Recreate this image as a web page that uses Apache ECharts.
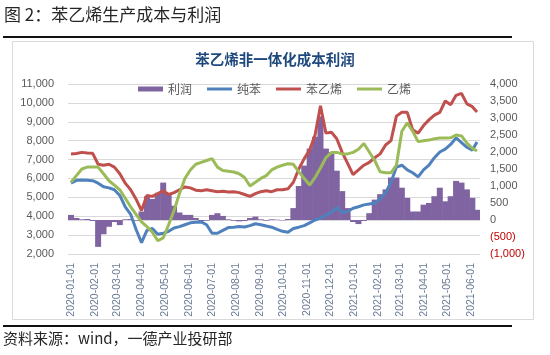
<!DOCTYPE html>
<html>
<head>
<meta charset="utf-8">
<script src="https://cdn.jsdelivr.net/npm/echarts@6/dist/echarts.min.js"></script>
<style>
html,body{margin:0;padding:0;background:#fff;}
#c{width:550px;height:355px;}
</style>
</head>
<body>
<div id="c"></div>
<script>
const dates = [
 '2020-01-01','2020-01-08','2020-01-15','2020-01-22','2020-01-29',
 '2020-02-05','2020-02-12','2020-02-19','2020-02-26',
 '2020-03-04','2020-03-11','2020-03-18','2020-03-25',
 '2020-04-01','2020-04-08','2020-04-15','2020-04-22','2020-04-29',
 '2020-05-06','2020-05-13','2020-05-20','2020-05-27',
 '2020-06-03','2020-06-10','2020-06-17','2020-06-24',
 '2020-07-01','2020-07-08','2020-07-15','2020-07-22','2020-07-29',
 '2020-08-05','2020-08-12','2020-08-19','2020-08-26',
 '2020-09-02','2020-09-09','2020-09-16','2020-09-23','2020-09-30',
 '2020-10-07','2020-10-14','2020-10-21','2020-10-28',
 '2020-11-04','2020-11-11','2020-11-18','2020-11-25',
 '2020-12-02','2020-12-09','2020-12-16','2020-12-23','2020-12-30',
 '2021-01-06','2021-01-13','2021-01-20','2021-01-27',
 '2021-02-03','2021-02-10','2021-02-17','2021-02-24',
 '2021-03-03','2021-03-10','2021-03-17','2021-03-24','2021-03-31',
 '2021-04-07','2021-04-14','2021-04-21','2021-04-28',
 '2021-05-05','2021-05-12','2021-05-19','2021-05-26',
 '2021-06-02','2021-06-08'
];
const profit = [
 150,60,20,30,-30,
 -790,-420,-200,-60,
 -150,20,30,-20,
 250,700,620,800,1100,
 780,420,220,150,
 150,60,-30,-20,
 150,200,120,20,-20,
 -40,-30,60,100,
 20,-20,20,10,-10,
 30,350,1000,1600,
 2100,2450,3050,2100,
 2000,1450,850,350,-60,
 -120,-30,200,600,
 760,900,1250,1250,
 950,650,250,250,450,
 500,700,950,550,
 700,1150,1100,900,
 650,300
];
const benzene = [
 5750,5900,5920,5900,5880,
 5750,5560,5500,5400,
 5100,4500,4100,3300,
 2600,3250,3350,3050,3100,
 3200,3380,3450,3550,
 3650,3680,3700,3550,
 3100,3100,3250,3400,3420,
 3450,3430,3500,3600,
 3550,3480,3420,3300,3200,
 3150,3350,3420,3500,
 3650,3800,3900,4050,
 4200,4450,4200,4250,4420,
 4500,4600,4650,4700,
 4900,5250,5800,6600,
 6700,6450,6300,6080,6450,
 6700,7100,7400,7550,
 7800,8150,7900,7650,
 7500,7930
];
const styrene = [
 7300,7320,7380,7350,7330,
 6750,6700,6750,6600,
 6250,5750,5400,4900,
 4300,5100,5050,5200,5350,
 5150,5250,5400,5550,
 5500,5380,5350,5400,
 5350,5300,5320,5280,5300,
 5250,5150,5050,5200,
 5300,5350,5300,5400,5400,
 5450,5800,6500,7050,
 7500,8300,9850,8400,
 8450,8100,7380,6800,6200,
 6450,6700,6850,7100,
 7300,7770,8000,9300,
 9500,9500,8570,8400,8800,
 9100,9350,9500,10100,
 9900,10400,10500,9950,
 9800,9520
];
const ethylene = [
 5800,6150,6500,6600,6600,
 6600,6250,5880,5650,
 5400,4950,4500,4100,
 3700,3450,3150,2700,2850,
 3550,4300,5200,6000,
 6450,6750,6850,6950,
 7050,6600,6420,6380,6340,
 6250,6050,5600,5800,
 6000,6150,6450,6600,6700,
 6780,6750,6350,6000,
 5650,6050,6550,7100,
 7370,7380,7300,7300,7380,
 7550,7850,7400,6950,
 6350,6300,6300,6700,
 8500,8940,8500,7950,8000,
 8030,8100,8140,8140,
 8150,8300,8250,7870,
 7600,7450
];
const monthTicks = [
 '2020-01-01','2020-02-01','2020-03-01','2020-04-01','2020-05-01','2020-06-01',
 '2020-07-01','2020-08-01','2020-09-01','2020-10-01','2020-11-01','2020-12-01',
 '2021-01-01','2021-02-01','2021-03-01','2021-04-01','2021-05-01','2021-06-01'
];
const seriesNames = ['利润','纯苯','苯乙烯','乙烯'];

const chart = echarts.init(document.getElementById('c'), null, {renderer:'canvas'});
const fmt = v => Math.abs(v).toLocaleString('en-US');
const pair = arr => dates.map((d,i)=>[d, arr[i]]);
const DAY = 86400000;
const tickSet = new Set(monthTicks);
const FONT = "'Liberation Sans','Noto Sans CJK SC',sans-serif";
const CJK = "'Noto Sans CJK SC',sans-serif";
const LINE_ICON = 'path://M0,0H25V3H0Z';

chart.setOption({
  animation:false,
  backgroundColor:'#fff',
  title:{
    text:'苯乙烯非一体化成本利润',
    left:'center', top:47,
    textStyle:{fontFamily:CJK, fontSize:14.5, fontWeight:'bold', color:'#1F497D'}
  },
  legend:{
    data:[
      {name:'利润', icon:'rect'},
      {name:'纯苯', icon:LINE_ICON},
      {name:'苯乙烯', icon:LINE_ICON},
      {name:'乙烯', icon:LINE_ICON}
    ],
    left:133, top:78,
    itemWidth:25, itemHeight:5, itemGap:15,
    textStyle:{fontFamily:CJK, fontSize:12, color:'#595959'}
  },
  grid:{left:68, right:70, top:84, bottom:101},
  xAxis:{
    type:'time',
    min:'2020-01-01', max:'2021-06-08',
    splitNumber:18, minInterval:28*DAY, maxInterval:31*DAY,
    axisLine:{show:true, lineStyle:{color:'#D9D9D9'}},
    axisTick:{show:false},
    splitLine:{show:false},
    axisLabel:{
      rotate:90, margin:9, showMaxLabel:false, hideOverlap:false,
      fontFamily:FONT, fontSize:10.5, color:'#6B7B95',
      formatter: v => {
        const s = echarts.time.format(v, '{yyyy}-{MM}-{dd}', false);
        return tickSet.has(s) ? s : '';
      }
    }
  },
  yAxis:[
    {
      type:'value', min:2000, max:11000, interval:1000,
      axisLine:{show:false}, axisTick:{show:false},
      splitLine:{lineStyle:{color:'#D9D9D9'}},
      axisLabel:{margin:14, fontFamily:FONT, fontSize:11, color:'#595959', formatter:v=>fmt(v)}
    },
    {
      type:'value', min:-1000, max:4000, interval:500,
      axisLine:{show:false}, axisTick:{show:false},
      splitLine:{show:false},
      axisLabel:{
        margin:10, fontFamily:FONT, fontSize:11,
        color:(v)=> (Number(v) < 0 ? '#C00000' : '#595959'),
        formatter:v => v < 0 ? '(' + fmt(v) + ')' : fmt(v)
      }
    }
  ],
  series:[
    {name:seriesNames[0], type:'bar', yAxisIndex:1, data:pair(profit), barWidth:6,
     itemStyle:{color:'#8064A2'}, z:1},
    {name:seriesNames[1], type:'line', yAxisIndex:0, data:pair(benzene), symbol:'none',
     lineStyle:{width:3, color:'#4F81BD'}, itemStyle:{color:'#4F81BD'}, z:3},
    {name:seriesNames[2], type:'line', yAxisIndex:0, data:pair(styrene), symbol:'none',
     lineStyle:{width:3, color:'#C0504D'}, itemStyle:{color:'#C0504D'}, z:3},
    {name:seriesNames[3], type:'line', yAxisIndex:0, data:pair(ethylene), symbol:'none',
     lineStyle:{width:3, color:'#9BBB59'}, itemStyle:{color:'#9BBB59'}, z:3}
  ],
  graphic:[
    {type:'text', left:4, top:6, style:{text:'图 2：苯乙烯生产成本与利润', font:"17px 'Noto Sans CJK SC', sans-serif", fill:'#262626'}},
    {type:'line', shape:{x1:3, y1:37, x2:512, y2:37}, style:{stroke:'#111', lineWidth:2}},
    {type:'rect', shape:{x:12.5, y:41.5, width:521, height:278}, style:{fill:'none', stroke:'#D9D9D9', lineWidth:1}, z:-1},
    {type:'line', shape:{x1:3, y1:326, x2:512, y2:326}, style:{stroke:'#111', lineWidth:2}},
    {type:'text', left:3, top:331, style:{text:'资料来源：wind，一德产业投研部', font:"15px 'Noto Sans CJK SC', sans-serif", fill:'#262626'}}
  ]
});
</script>
</body>
</html>
